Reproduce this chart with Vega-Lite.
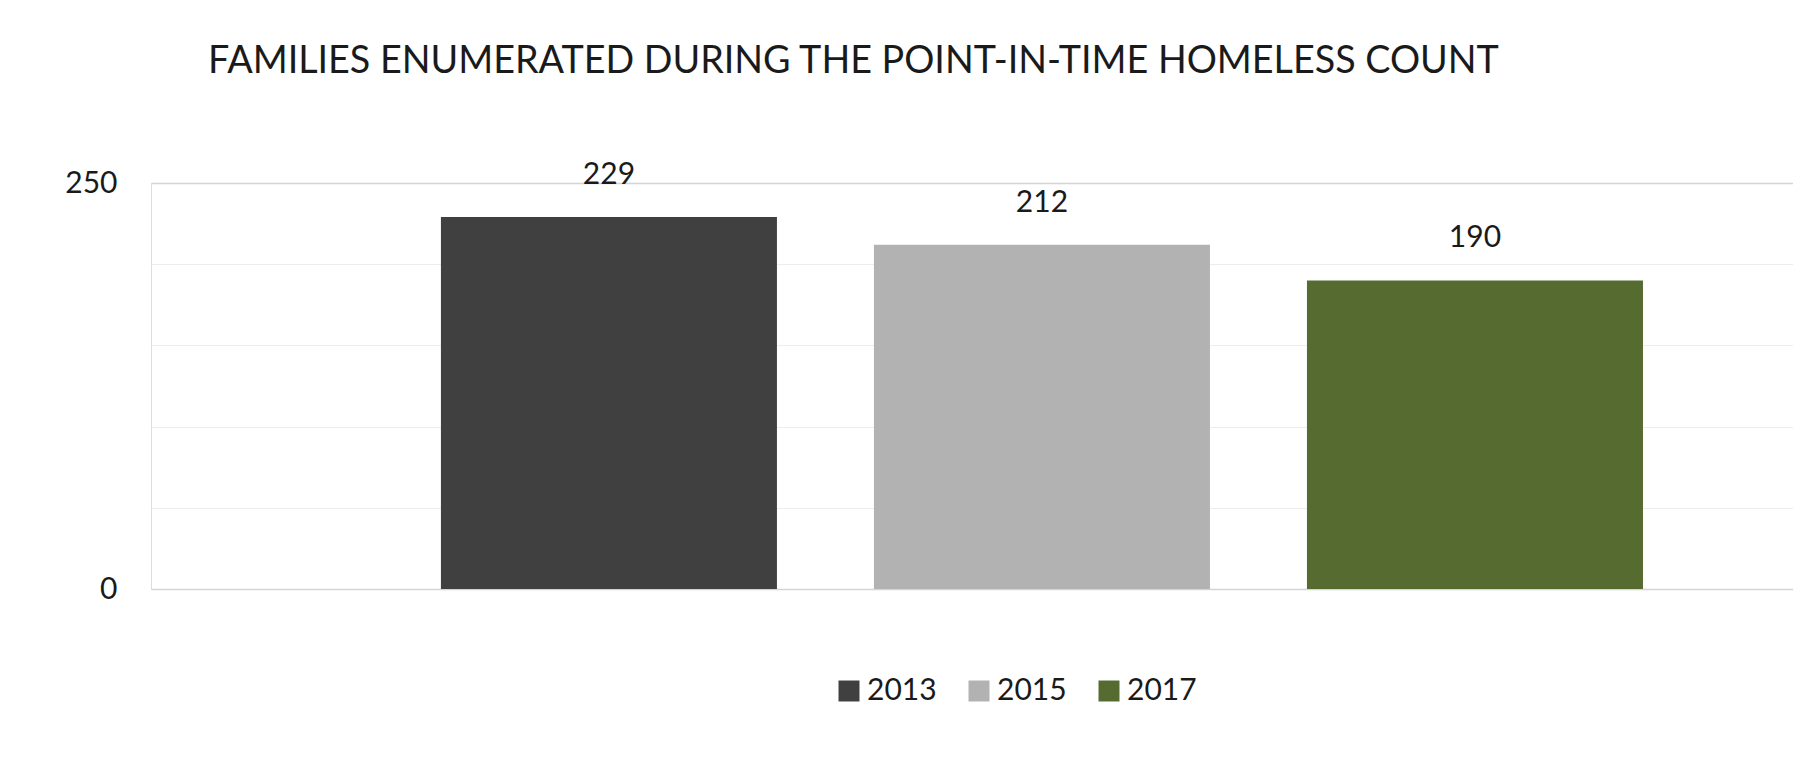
{
  "$schema": "https://vega.github.io/schema/vega-lite/v6.json",
  "autosize": {"type": "none"},
  "padding": {"left": 151, "top": 183, "right": 0, "bottom": 188},
  "width": 1642,
  "height": 406,
  "background": "white",
  "title": {
    "text": "FAMILIES ENUMERATED DURING THE POINT-IN-TIME HOMELESS COUNT",
    "anchor": "start",
    "frame": "group",
    "dx": 57,
    "offset": 79,
    "font": "Lato",
    "fontSize": 37.7,
    "fontWeight": "normal",
    "color": "#1a1a1a"
  },
  "data": {
    "values": [
      {"year": "2013", "families": 229},
      {"year": "2015", "families": 212},
      {"year": "2017", "families": 190}
    ]
  },
  "encoding": {
    "x": {
      "field": "year",
      "type": "nominal",
      "axis": null,
      "scale": {"paddingInner": 0.224, "paddingOuter": 0.508, "align": 0.659}
    },
    "y": {
      "field": "families",
      "type": "quantitative",
      "scale": {"domain": [0, 250], "nice": false},
      "axis": {
        "title": null,
        "values": [0, 50, 100, 150, 200, 250],
        "labelExpr": "datum.value == 0 || datum.value == 250 ? datum.label : ''",
        "domain": false,
        "ticks": false,
        "labelPadding": 34,
        "labelFont": "Lato",
        "labelFontSize": 30,
        "labelColor": "#1a1a1a",
        "gridColor": {"condition": {"test": "datum.value == 0 || datum.value == 250", "value": "#d4d4d4"}, "value": "#ededed"},
        "gridWidth": {"condition": {"test": "datum.value == 0 || datum.value == 250", "value": 1.5}, "value": 1}
      }
    }
  },
  "layer": [
    {
      "mark": {"type": "bar"},
      "encoding": {
        "color": {
          "field": "year",
          "type": "nominal",
          "scale": {"domain": ["2013", "2015", "2017"], "range": ["#404040", "#b2b2b2", "#566b2f"]},
          "legend": {
            "title": null,
            "orient": "none",
            "direction": "horizontal",
            "legendX": 683,
            "legendY": 493,
            "symbolType": "square",
            "symbolSize": 440,
            "symbolStrokeWidth": 0,
            "labelOffset": 3,
            "columnPadding": 27,
            "labelFont": "Lato",
            "labelFontSize": 30,
            "labelColor": "#1a1a1a"
          }
        }
      }
    },
    {
      "mark": {"type": "text", "baseline": "alphabetic", "dy": -33, "font": "Lato", "fontSize": 30, "color": "#1a1a1a"},
      "encoding": {
        "text": {"field": "families", "type": "quantitative"}
      }
    }
  ]
}
